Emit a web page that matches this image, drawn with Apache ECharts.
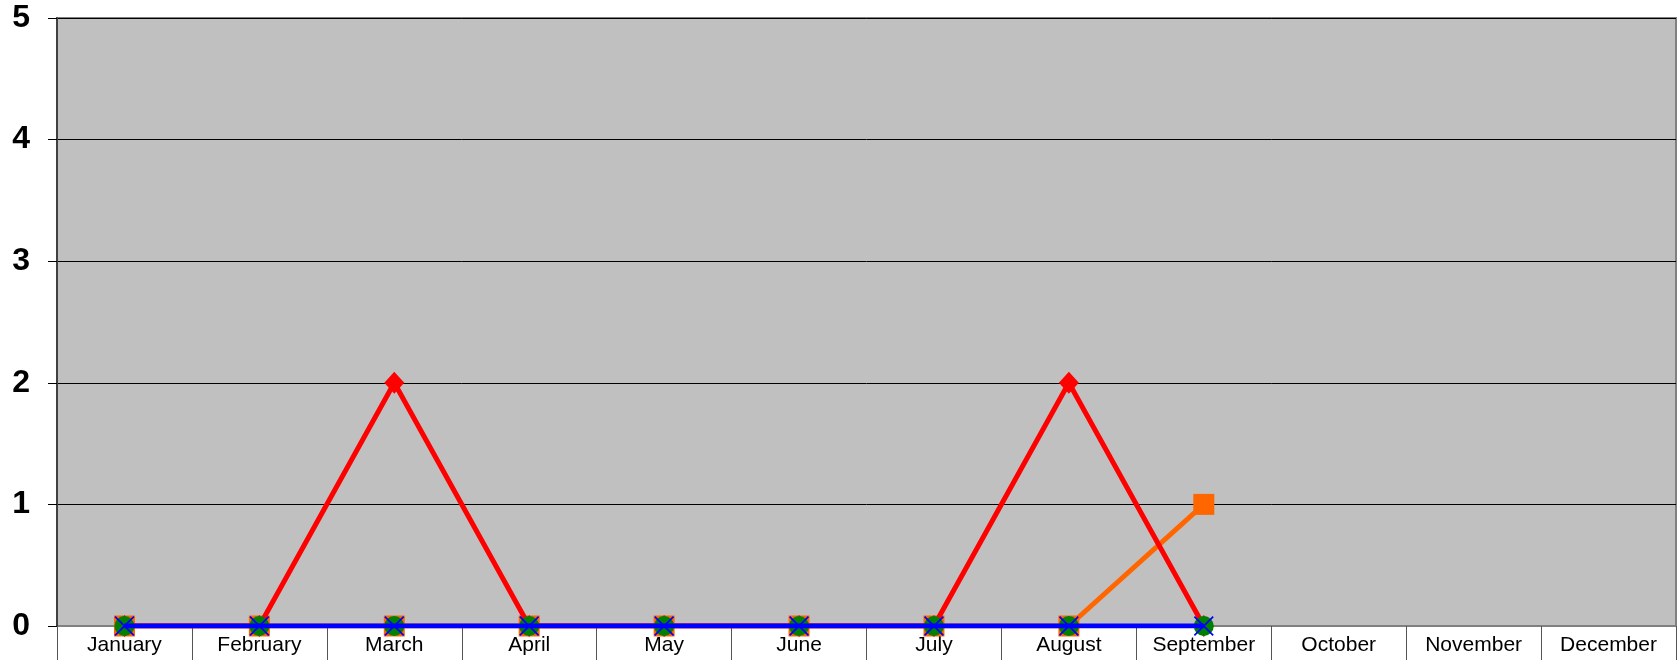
<!DOCTYPE html>
<html>
<head>
<meta charset="utf-8">
<style>
  html, body { margin: 0; padding: 0; background: #fff; }
  #chart { width: 1677px; height: 662px; }
</style>
<script src="https://cdn.jsdelivr.net/npm/echarts@6/dist/echarts.min.js"></script>
</head>
<body>
<div id="chart"></div>
<script>
// Monthly counts chart
var months = ['January', 'February', 'March', 'April', 'May', 'June', 'July', 'August', 'September', 'October', 'November', 'December'];
var redValues = [0, 0, 2, 0, 0, 0, 0, 2, 0, null, null, null];
var orangeValues = [0, 0, 0, 0, 0, 0, 0, 0, 1, null, null, null];
var greenValues = [0, 0, 0, 0, 0, 0, 0, 0, 0, null, null, null];
var blueValues = [0, 0, 0, 0, 0, 0, 0, 0, 0, null, null, null];
var yTicks = [0, 1, 2, 3, 4, 5];

(function() {
  var chart = echarts.init(document.getElementById('chart'), null, { renderer: 'canvas' });
  // thin diagonal cross for the blue series
  var xSymbol = 'path://M0,0.6L0.6,0L10,9.4L9.4,10Z M9.4,0L10,0.6L0.6,10L0,9.4Z';

  chart.setOption({
    animation: false,
    backgroundColor: '#ffffff',
    textStyle: { fontFamily: 'Liberation Sans, Arial, sans-serif' },
    grid: {
      left: 57, right: 1, top: 18, bottom: 36,
      show: true,
      backgroundColor: '#c0c0c0',
      borderColor: '#808080',
      borderWidth: 2
    },
    xAxis: {
      type: 'category',
      data: months,
      boundaryGap: true,
      axisLine: { lineStyle: { color: '#808080', width: 1 } },
      axisTick: { show: true, interval: 0, length: 34, lineStyle: { color: '#555555', width: 1 } },
      axisLabel: { color: '#000', fontSize: 21, margin: 9, interval: 0, hideOverlap: false }
    },
    yAxis: {
      type: 'value',
      min: yTicks[0],
      max: yTicks[yTicks.length - 1],
      interval: 1,
      axisLine: { show: true, lineStyle: { color: '#404040', width: 2 } },
      axisTick: { show: true, length: 9, lineStyle: { color: '#000', width: 1 } },
      axisLabel: { color: '#000', fontSize: 32, fontWeight: 'bold', margin: 27 },
      splitLine: { show: true, lineStyle: { color: '#000', width: 1 } }
    },
    series: [
      {
        name: 'Orange',
        type: 'line',
        data: orangeValues,
        z: 2,
        symbol: 'rect',
        symbolSize: 21,
        itemStyle: { color: '#ff6600' },
        lineStyle: { color: '#ff6600', width: 5 }
      },
      {
        name: 'Red',
        type: 'line',
        data: redValues,
        z: 3,
        symbol: 'diamond',
        symbolSize: [20, 22],
        itemStyle: { color: '#ff0000' },
        lineStyle: { color: '#ff0000', width: 5 }
      },
      {
        name: 'Green',
        type: 'line',
        data: greenValues,
        z: 4,
        symbol: 'circle',
        symbolSize: 20,
        itemStyle: { color: '#008000' },
        lineStyle: { color: '#008000', width: 4 }
      },
      {
        name: 'Blue',
        type: 'line',
        data: blueValues,
        z: 5,
        symbol: xSymbol,
        symbolSize: 20,
        itemStyle: { color: '#0000ff' },
        lineStyle: { color: '#0000ff', width: 5 }
      }
    ]
  });
  window.addEventListener('resize', function() { chart.resize(); });
})();
</script>
</body>
</html>
